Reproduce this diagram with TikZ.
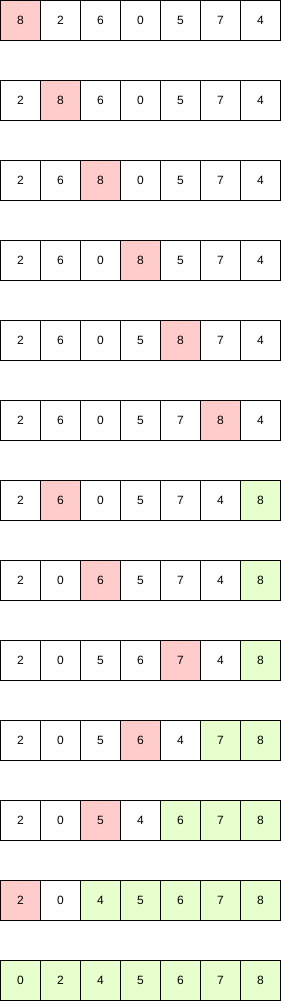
\documentclass[tikz,border=0pt]{standalone}
\usepackage{fontspec}
\setmainfont{Liberation Sans}
\definecolor{hot}{HTML}{FFCCCC}
\definecolor{done}{HTML}{E6FFCC}
\definecolor{cold}{HTML}{FFFFFF}
\tikzset{
  cell/.style={draw=black, line width=1pt, minimum width=40pt, minimum height=40pt,
    inner sep=0pt, outer sep=0pt, font=\fontsize{12}{14}\selectfont},
}
\begin{document}
\begin{tikzpicture}[x=1pt,y=-1pt]
\useasboundingbox (0,0) rectangle (281,1001);
\foreach \vals [count=\r] in {
 {8/hot,2/cold,6/cold,0/cold,5/cold,7/cold,4/cold},
 {2/cold,8/hot,6/cold,0/cold,5/cold,7/cold,4/cold},
 {2/cold,6/cold,8/hot,0/cold,5/cold,7/cold,4/cold},
 {2/cold,6/cold,0/cold,8/hot,5/cold,7/cold,4/cold},
 {2/cold,6/cold,0/cold,5/cold,8/hot,7/cold,4/cold},
 {2/cold,6/cold,0/cold,5/cold,7/cold,8/hot,4/cold},
 {2/cold,6/hot,0/cold,5/cold,7/cold,4/cold,8/done},
 {2/cold,0/cold,6/hot,5/cold,7/cold,4/cold,8/done},
 {2/cold,0/cold,5/cold,6/cold,7/hot,4/cold,8/done},
 {2/cold,0/cold,5/cold,6/hot,4/cold,7/done,8/done},
 {2/cold,0/cold,5/hot,4/cold,6/done,7/done,8/done},
 {2/hot,0/cold,4/done,5/done,6/done,7/done,8/done},
 {0/done,2/done,4/done,5/done,6/done,7/done,8/done}}
{
  \foreach \v/\c [count=\i] in \vals {
    \node[cell, fill=\c] (c-\r-\i) at ({40*\i-19.5},{80*\r-59.5}) {\v};
  }
}
\end{tikzpicture}
\end{document}
